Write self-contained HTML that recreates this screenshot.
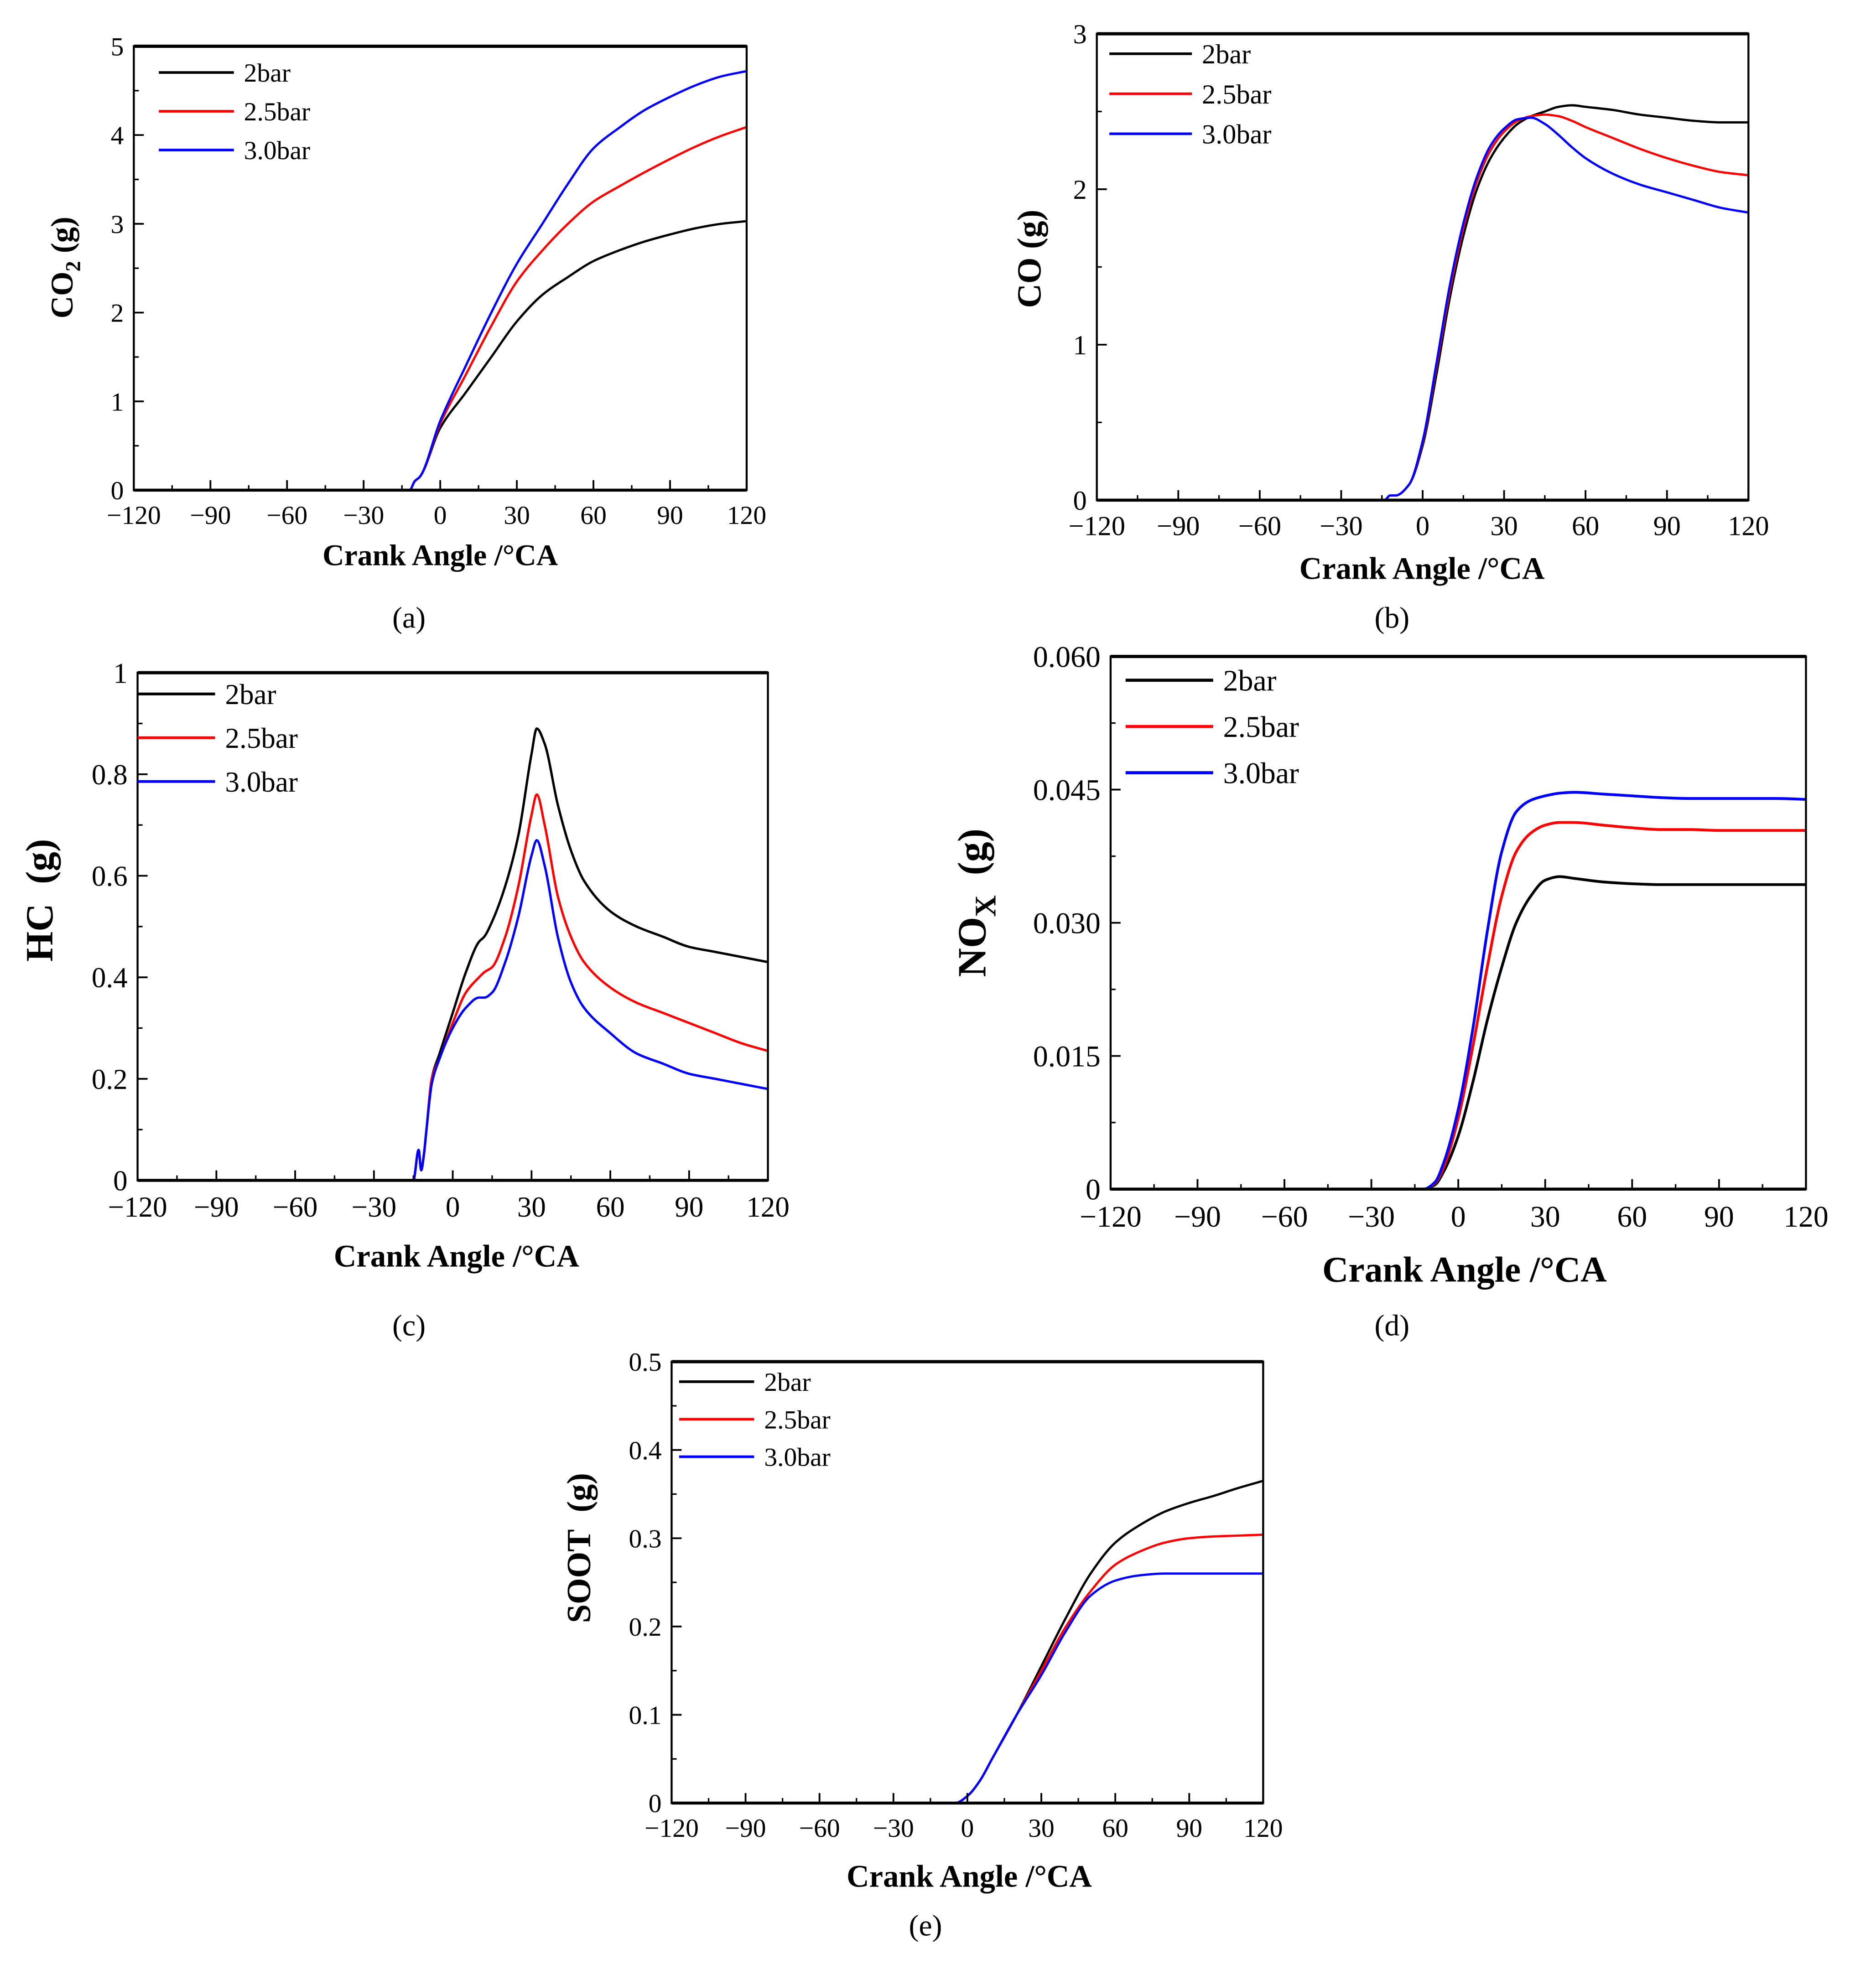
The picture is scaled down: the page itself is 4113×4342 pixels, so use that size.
<!DOCTYPE html>
<html><head><meta charset="utf-8"><style>
html,body{margin:0;padding:0;background:#fff}
svg{display:block}
text{font-family:"Liberation Serif",serif;fill:#000}
</style></head><body>
<svg id="fig" width="4113" height="4342" viewBox="0 0 1500 1583.5" preserveAspectRatio="none" xmlns="http://www.w3.org/2000/svg"></svg>
<script>
const xTickLabels = ["−120","−90","−60","−30","0","30","60","90","120"];
const xTickValues = [-120,-90,-60,-30,0,30,60,90,120];
const seriesNames = ["2bar","2.5bar","3.0bar"];

const aX = [-120,-12,-10,-8,0,10,20,30,40,50,60,70,80,90,100,110,120];
const a2 = [0,0,0.1,0.15,0.7,1.1,1.5,1.9,2.2,2.4,2.58,2.7,2.8,2.88,2.95,3.0,3.03];
const a25 = [0,0,0.1,0.15,0.75,1.3,1.85,2.35,2.7,3.0,3.25,3.42,3.58,3.73,3.87,3.99,4.09];
const a3 = [0,0,0.1,0.15,0.78,1.4,2.0,2.55,3.0,3.45,3.85,4.08,4.28,4.43,4.56,4.66,4.72];
const aYTicks = ["0","1","2","3","4","5"];

const bX = [-120,-14,-12,-10,-5,0,5,10,15,20,25,30,35,40,45,50,55,60,70,80,90,100,110,120];
const b2 = [0,0,0.03,0.03,0.1,0.35,0.8,1.3,1.7,2.0,2.2,2.33,2.42,2.47,2.5,2.53,2.54,2.53,2.51,2.48,2.46,2.44,2.43,2.43];
const b25 = [0,0,0.03,0.03,0.1,0.37,0.85,1.35,1.75,2.05,2.25,2.37,2.44,2.47,2.48,2.47,2.44,2.4,2.33,2.26,2.2,2.15,2.11,2.09];
const b3 = [0,0,0.03,0.03,0.1,0.38,0.87,1.38,1.78,2.08,2.28,2.39,2.45,2.46,2.42,2.35,2.27,2.2,2.1,2.03,1.98,1.93,1.88,1.85];
const bYTicks = ["0","1","2","3"];

const cX = [-120,-15,-13,-12,-11,-10,-8,-5,0,5,10,12,15,20,25,30,32,35,40,45,50,60,70,80,90,100,110,120];
const c2 = [0,0,0.06,0.02,0.05,0.1,0.2,0.25,0.33,0.41,0.47,0.48,0.51,0.58,0.68,0.84,0.89,0.86,0.74,0.65,0.59,0.53,0.5,0.48,0.46,0.45,0.44,0.43];
const c25 = [0,0,0.06,0.02,0.05,0.1,0.2,0.24,0.31,0.37,0.4,0.41,0.42,0.48,0.58,0.72,0.76,0.7,0.56,0.48,0.43,0.38,0.35,0.33,0.31,0.29,0.27,0.255];
const c3 = [0,0,0.06,0.02,0.05,0.1,0.19,0.24,0.3,0.34,0.36,0.36,0.37,0.43,0.52,0.64,0.67,0.62,0.48,0.39,0.34,0.29,0.25,0.23,0.21,0.2,0.19,0.18];
const cYTicks = ["0","0.2","0.4","0.6","0.8","1"];

const dX = [-120,-12,-8,-5,0,5,10,15,20,25,30,35,40,50,60,70,80,90,100,110,120];
const d2 = [0,0,0.0005,0.002,0.006,0.012,0.019,0.025,0.03,0.033,0.0348,0.0352,0.035,0.0346,0.0344,0.0343,0.0343,0.0343,0.0343,0.0343,0.0343];
const d25 = [0,0,0.0007,0.0025,0.008,0.016,0.025,0.033,0.038,0.0401,0.041,0.0413,0.0413,0.041,0.0407,0.0405,0.0405,0.0404,0.0404,0.0404,0.0404];
const d3 = [0,0,0.0008,0.003,0.009,0.018,0.029,0.038,0.0425,0.0438,0.0443,0.0446,0.0447,0.0445,0.0443,0.0441,0.044,0.044,0.044,0.044,0.0439];
const dYTicks = ["0","0.015","0.030","0.045","0.060"];

const eX = [-120,-5,0,5,10,20,30,40,50,60,70,80,90,100,110,120];
const e2 = [0,0,0.008,0.025,0.05,0.1,0.155,0.21,0.26,0.295,0.315,0.33,0.34,0.348,0.357,0.365];
const e25 = [0,0,0.008,0.025,0.05,0.1,0.15,0.2,0.24,0.27,0.285,0.295,0.3,0.302,0.303,0.304];
const e3 = [0,0,0.008,0.025,0.05,0.1,0.145,0.195,0.235,0.252,0.258,0.26,0.26,0.26,0.26,0.26];
const eYTicks = ["0","0.1","0.2","0.3","0.4","0.5"];

const NS="http://www.w3.org/2000/svg";
const svg=document.getElementById('fig');
const colors=["#000","#f00","#00f"];
function mk(tag,attrs,parent){const e=document.createElementNS(NS,tag);for(const k in attrs)e.setAttribute(k,attrs[k]);(parent||svg).appendChild(e);return e;}

// monotone cubic path through pixel points
function smoothPath(px,py){
  const n=px.length, d=[], m=new Array(n).fill(0);
  for(let i=0;i<n-1;i++) d.push((py[i+1]-py[i])/(px[i+1]-px[i]));
  m[0]=d[0]; m[n-1]=d[n-2];
  for(let i=1;i<n-1;i++){ if(d[i-1]*d[i]<=0) m[i]=0; else { const w1=2*(px[i+1]-px[i])+(px[i]-px[i-1]), w2=(px[i+1]-px[i])+2*(px[i]-px[i-1]); m[i]=(w1+w2)/(w1/d[i-1]+w2/d[i]); } }
  let s='M'+px[0].toFixed(2)+' '+py[0].toFixed(2);
  for(let i=0;i<n-1;i++){const h=(px[i+1]-px[i])/3;
    s+='C'+(px[i]+h).toFixed(2)+' '+(py[i]+m[i]*h).toFixed(2)+' '+(px[i+1]-h).toFixed(2)+' '+(py[i+1]-m[i+1]*h).toFixed(2)+' '+px[i+1].toFixed(2)+' '+py[i+1].toFixed(2);}
  return s;
}

function panel(p){
  const g=mk('g',{});
  
  
  const sx=v=>p.x0+(v+120)/240*(p.x1-p.x0);
  const sy=v=>p.y1-(v/p.ymax)*(p.y1-p.y0);
  p.series.forEach((ys,i)=>{
    const px=p.xs.map(sx), py=ys.map(sy);
    const path=mk('path',{d:smoothPath(px,py),fill:'none',stroke:colors[i],'stroke-width':p.lw,'stroke-linejoin':'round'},g);
    
    
  });
  const fr=mk('rect',{x:p.x0,y:p.y0,width:p.x1-p.x0,height:p.y1-p.y0,fill:'none',stroke:'#000','stroke-width':1.6},g);
  
  
  mk('line',{x1:p.x0,x2:p.x1,y1:p.y0,y2:p.y0,stroke:'#000','stroke-width':2.6},g);
  mk('line',{x1:p.x0,x2:p.x1,y1:p.y1,y2:p.y1,stroke:'#000','stroke-width':2.4},g);
  xTickValues.forEach((v,i)=>{
    const x=sx(v);
    mk('line',{x1:x,x2:x,y1:p.y1,y2:p.y1-8,stroke:'#000','stroke-width':1.4},g);
    if(i<xTickValues.length-1){const xm=sx(v+15);mk('line',{x1:xm,x2:xm,y1:p.y1,y2:p.y1-4,stroke:'#000','stroke-width':1.2},g);}
    const t=mk('text',{x:x,y:p.y1+p.tf+6,'text-anchor':'middle','font-size':p.tf},g);
    t.textContent=xTickLabels[i];
    
    
  });
  const n=p.yt.length-1;
  p.yt.forEach((lab,i)=>{
    const v=p.ymax*i/n,y=sy(v);
    mk('line',{x1:p.x0,x2:p.x0+8,y1:y,y2:y,stroke:'#000','stroke-width':1.4},g);
    if(i<n){const ym=sy(v+p.ymax/n/2);mk('line',{x1:p.x0,x2:p.x0+4,y1:ym,y2:ym,stroke:'#000','stroke-width':1.2},g);}
    const t=mk('text',{x:p.x0-8,y:y+p.tf*0.35,'text-anchor':'end','font-size':p.tf},g);
    t.textContent=lab;
    
    
  });
  seriesNames.forEach((nm,i)=>{
    const y=p.lg.y+i*p.lg.dy;
    mk('line',{x1:p.lg.x,x2:p.lg.x+p.lg.w,y1:y,y2:y,stroke:colors[i],'stroke-width':p.lw+0.3},g);
    const t=mk('text',{x:p.lg.x+p.lg.w+8,y:y+p.lg.f*0.35,'font-size':p.lg.f},g);
    t.textContent=nm;
    
    
  });
  const xt=mk('text',{x:p.xt[0],y:p.xt[1],'text-anchor':'middle','font-size':p.xt[2],'font-weight':'bold'},g);
  xt.textContent='Crank Angle /°CA';
  
  
  const yt=mk('text',{x:0,y:0,'text-anchor':'middle','font-size':p.ytl[2],'font-weight':'bold',transform:`translate(${p.ytl[0]},${p.ytl[1]}) rotate(-90)`},g);
  yt.innerHTML=p.ytitle;
  
  
  const cp=mk('text',{x:p.cap[0],y:p.cap[1],'text-anchor':'middle','font-size':24},g);
  cp.textContent='('+p.id+')';
  
  
}

panel({id:'a',x0:107,x1:597,y0:37,y1:392,ymax:5,xs:aX,series:[a2,a25,a3],yt:aYTicks,tf:21,lw:1.8,
  lg:{x:127,y:58,dy:31,w:60,f:21},xt:[352,452,24],ytl:[58,214,25],ytitle:'CO<tspan font-size="17" dy="6">2</tspan><tspan dy="-6"> (g)</tspan>',cap:[327,502]});
panel({id:'b',x0:877,x1:1398,y0:27,y1:400,ymax:3,xs:bX,series:[b2,b25,b3],yt:bYTicks,tf:22,lw:1.8,
  lg:{x:887,y:43,dy:32,w:66,f:22},xt:[1137,463,25],ytl:[832,207,27],ytitle:'CO (g)',cap:[1113,502]});
panel({id:'c',x0:110,x1:614,y0:538,y1:944,ymax:1,xs:cX,series:[c2,c25,c3],yt:cYTicks,tf:23,lw:1.9,
  lg:{x:110,y:555,dy:35,w:62,f:23},xt:[365,1013,25],ytl:[42,720,31],ytitle:'HC&#160;&#160;(g)',cap:[327,1068]});
panel({id:'d',x0:888,x1:1444,y0:525,y1:951,ymax:0.06,xs:dX,series:[d2,d25,d3],yt:dYTicks,tf:24,lw:2.2,
  lg:{x:900,y:544,dy:37,w:70,f:24},xt:[1171,1025,29],ytl:[788,722,32],ytitle:'NO<tspan font-size="24" dy="8">X</tspan><tspan dy="-8">&#160;&#160;(g)</tspan>',cap:[1113,1068]});
panel({id:'e',x0:537,x1:1010,y0:1089,y1:1442,ymax:0.5,xs:eX,series:[e2,e25,e3],yt:eYTicks,tf:21,lw:1.8,
  lg:{x:543,y:1105,dy:30,w:60,f:21},xt:[775,1509,25],ytl:[472,1238,27],ytitle:'SOOT&#160;&#160;(g)',cap:[740,1548]});
</script>
</body></html>
